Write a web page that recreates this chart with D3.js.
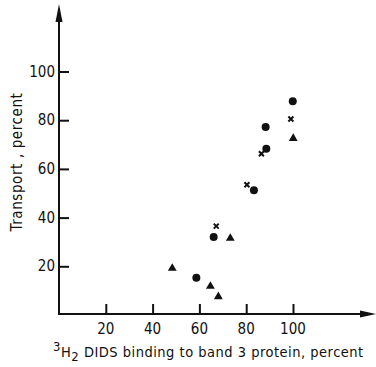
<!DOCTYPE html>
<html>
<head>
<meta charset="utf-8">
<script src="https://cdn.jsdelivr.net/npm/d3@7"></script>
<style>
  body { margin: 0; background: #fff; }
  text { font-family: "DejaVu Sans Condensed", "DejaVu Sans", sans-serif; fill: #111; }
</style>
</head>
<body>
<div id="chart"></div>
<script>
// values
const circleX = [99.9, 88.3, 88.6, 83.3, 66.1, 58.7];
const circleY = [87.8, 77.2, 68.3, 51.2, 32.0, 15.3];
const crossX = [99.1, 86.5, 80.3, 67.2];
const crossY = [80.5, 66.2, 53.5, 36.5];
const triX = [100.1, 73.2, 48.4, 64.7, 68.1];
const triY = [72.5, 31.5, 19.2, 11.8, 7.5];
const xTicks = [20, 40, 60, 80, 100];
const yTicks = [20, 40, 60, 80, 100];

const width = 376, height = 367;
const x0 = 59, y0 = 315;

const svg = d3.select('#chart').append('svg')
  .attr('width', width)
  .attr('height', height);

const x = d3.scaleLinear().domain([0, 100]).range([x0, x0 + 234]);
const y = d3.scaleLinear().domain([0, 100]).range([y0, y0 - 243.5]);

// axes lines with arrows
svg.append('line')
  .attr('x1', x0).attr('y1', y0)
  .attr('x2', x0).attr('y2', 10)
  .attr('stroke', '#111').attr('stroke-width', 2);
svg.append('path')
  .attr('d', `M${x0},4 L${x0 - 3.5},22 L${x0 + 3.5},22 Z`)
  .attr('fill', '#111');

svg.append('line')
  .attr('x1', x0 - 1).attr('y1', y0 - 1)
  .attr('x2', 370).attr('y2', y0 - 1)
  .attr('stroke', '#111').attr('stroke-width', 2);
svg.append('path')
  .attr('d', `M376,${y0 - 1} L360,${y0 - 4.5} L360,${y0 + 2.5} Z`)
  .attr('fill', '#111');

// ticks (inward)
const xAxis = d3.axisTop(x).tickValues(xTicks).tickSize(10).tickFormat('');
const gx = svg.append('g').attr('transform', `translate(0,${y0 - 1})`).call(xAxis);
gx.select('.domain').remove();
gx.selectAll('line').attr('stroke', '#111').attr('stroke-width', 2);

const yAxis = d3.axisRight(y).tickValues(yTicks).tickSize(10).tickFormat('');
const gy = svg.append('g').attr('transform', `translate(${x0},0)`).call(yAxis);
gy.select('.domain').remove();
gy.selectAll('line').attr('stroke', '#111').attr('stroke-width', 2);

// tick labels
svg.selectAll('.xl').data(xTicks).enter().append('text')
  .attr('class', 'xl')
  .attr('x', d => x(d))
  .attr('y', 334)
  .attr('text-anchor', 'middle')
  .attr('font-size', 15)
  .text(d => d);

svg.selectAll('.yl').data(yTicks).enter().append('text')
  .attr('class', 'yl')
  .attr('x', 55)
  .attr('y', d => y(d) + 5)
  .attr('text-anchor', 'end')
  .attr('font-size', 15)
  .text(d => d);

// axis titles
svg.append('text')
  .attr('transform', 'translate(22,162) rotate(-90)')
  .attr('text-anchor', 'middle')
  .attr('font-size', 15)
  .attr('letter-spacing', 0.6)
  .text('Transport , percent');

const xt = svg.append('text')
  .attr('x', 53)
  .attr('y', 357)
  .attr('font-size', 14.5)
  .attr('letter-spacing', 0.5);
xt.append('tspan').attr('dy', -6).attr('font-size', 13).text('3');
xt.append('tspan').attr('dy', 6).text('H');
xt.append('tspan').attr('dy', 4).attr('font-size', 13).text('2');
xt.append('tspan').attr('dy', -4).text(' DIDS binding  to  band 3 protein, percent');

// markers
const circles = circleX.map((v, i) => ({ x: v, y: circleY[i] }));
const crosses = crossX.map((v, i) => ({ x: v, y: crossY[i] }));
const tris = triX.map((v, i) => ({ x: v, y: triY[i] }));

svg.selectAll('.c').data(circles).enter().append('circle')
  .attr('class', 'c')
  .attr('cx', d => x(d.x))
  .attr('cy', d => y(d.y))
  .attr('r', 4)
  .attr('fill', '#111');

svg.selectAll('.t').data(tris).enter().append('path')
  .attr('class', 't')
  .attr('d', d3.symbol(d3.symbolTriangle, 34))
  .attr('transform', d => `translate(${x(d.x)},${y(d.y)})`)
  .attr('fill', '#111');

svg.selectAll('.x').data(crosses).enter().append('path')
  .attr('class', 'x')
  .attr('d', d3.symbol(d3.symbolTimes, 18))
  .attr('transform', d => `translate(${x(d.x)},${y(d.y)})`)
  .attr('fill', 'none')
  .attr('stroke', '#111')
  .attr('stroke-width', 2);
</script>
</body>
</html>
